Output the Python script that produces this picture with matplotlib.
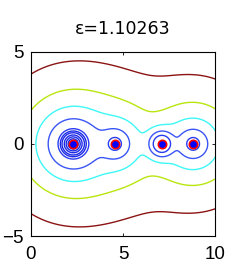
import numpy as np
import matplotlib
matplotlib.use('Agg')
import matplotlib.pyplot as plt

# point sources on the x axis
src_x = np.array([2.3, 4.57, 7.1, 8.8])
# kernel parameters per source (log weight, log scale) and shared shape exponent
log_w = np.array([0.0, -1.432, 1.127, -1.447])
log_s = np.array([-1.939, -1.900, -3.000, -1.854])
alpha = 0.654

# contour levels of the log density, outermost first
outer_levels = [-9.353, -7.142, -5.616, -4.325, -3.119]
outer_colors = ['#8c1414', '#b9e60f', '#3ef7f7', '#3a55f5', '#2a3cf0']
# the tight rings round the big source
inner_levels = [-2.8, -2.55, -2.2, -1.88, -1.52, -1.15]
inner_color = '#1a28e6'

title = 'ε=1.10263'
xticks = [0, 5, 10]
yticks = [-5, 0, 5]


def log_density(x, y):
    d = np.sqrt((x[..., None] - src_x) ** 2 + y[..., None] ** 2)
    t = log_w - (d / np.exp(log_s)) ** alpha
    m = t.max(-1, keepdims=True)
    return (m + np.log(np.exp(t - m).sum(-1, keepdims=True)))[..., 0]


xs = np.linspace(0, 10, 501)
ys = np.linspace(-5, 5, 501)
X, Y = np.meshgrid(xs, ys)
Z = log_density(X, Y)
Zin = np.ma.masked_where(np.hypot(X - src_x[0], Y) > 1.2, Z)

fig = plt.figure(figsize=(2.49, 2.64), dpi=100)
ax = fig.add_axes([0.1233, 0.106, 0.7414, 0.698])
ax.contour(X, Y, Z, levels=outer_levels, colors=outer_colors,
           linewidths=1.0, linestyles='solid')
ax.contour(X, Y, Zin, levels=inner_levels, colors=inner_color,
           linewidths=1.0, linestyles='solid')
ax.plot(src_x, np.zeros_like(src_x), 'o', ms=6, mfc='#0000ff', mec='#ff0000', mew=1.2)

ax.set_xlim(0, 10)
ax.set_ylim(-5, 5)
ax.set_xticks(xticks)
ax.set_yticks(yticks)
ax.tick_params(direction='in', length=2, width=0.6, top=True, right=True)
ax.tick_params(axis='x', pad=7)
ax.tick_params(axis='y', pad=5)
for lab in ax.get_xticklabels() + ax.get_yticklabels():
    lab.set_fontfamily('Liberation Sans')
    lab.set_fontsize(13.5)
for sp in ax.spines.values():
    sp.set_linewidth(0.8)

fig.text(0.492, 0.871, title, fontsize=12.5, ha='center', va='baseline')

fig.savefig('out.png', dpi=100)
